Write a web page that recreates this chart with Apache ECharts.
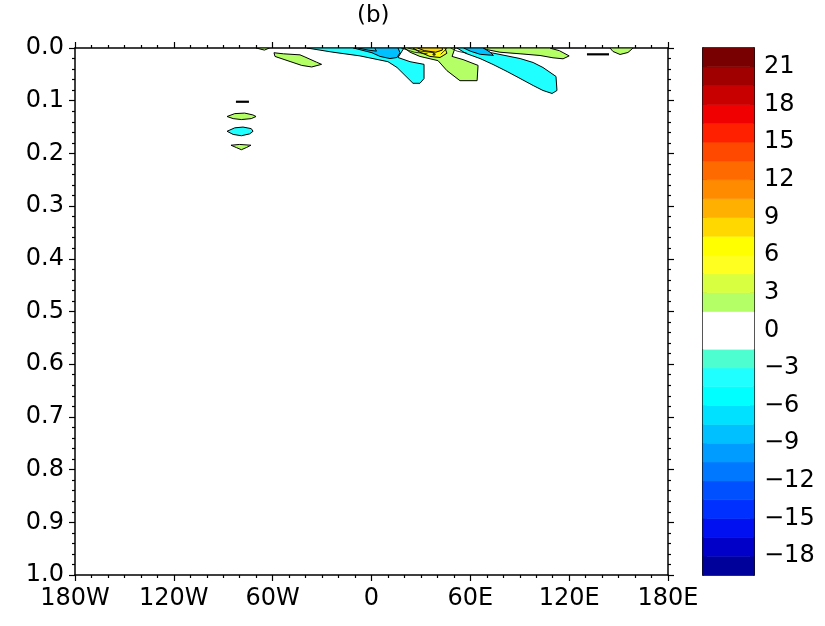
<!DOCTYPE html>
<html>
<head>
<meta charset="utf-8">
<script src="https://cdn.jsdelivr.net/npm/echarts@6/dist/echarts.min.js"></script>
<style>html,body{margin:0;padding:0;background:#fff;}#c{width:825px;height:626px;}</style>
</head>
<body>
<div id="c"></div>
<script>
// ---------- axis tick data ----------
const lonTicks = [-180, -120, -60, 0, 60, 120, 180];
const lonTickLabels = ['180W', '120W', '60W', '0', '60E', '120E', '180E'];
const cbarTickValues = [-18, -15, -12, -9, -6, -3, 0, 3, 6, 9, 12, 15, 18, 21];

// ---------- colour scale (edges and colours, bottom to top) ----------
const cbarEdges = [-19.5, -18, -16.5, -15, -13.5, -12, -10.5, -9, -7.5, -6, -4.5, -3, -1.5,
  1.5, 3, 4.5, 6, 7.5, 9, 10.5, 12, 13.5, 15, 16.5, 18, 19.5, 21, 22.5];
const cbarColors = ['#00009a', '#0000c8', '#0010f0', '#0030ff', '#0050ff', '#0078ff', '#009cff',
  '#00c0ff', '#00e0ff', '#00ffff', '#20ffff', '#4dffd0', '#ffffff',
  '#b4ff66', '#d8ff40', '#ffff20', '#ffff00', '#ffd800', '#ffb000', '#ff8c00', '#ff6a00',
  '#ff4800', '#ff2000', '#f00000', '#c80000', '#a00000', '#780000'];

// ---------- contour polygons [lon, depth] ----------
const cyanA = [[-39.2, 0], [-23.4, 0.008], [-7, 0.015], [10, 0.026], [15.5, 0.037], [25.2, 0.067],
  [29.4, 0.067], [31.9, 0.058], [31.9, 0.031], [23.4, 0.026], [16.1, 0.018], [19.7, 0]];
const blueA = [[-11, 0], [0.3, 0.009], [5.2, 0.016], [11.2, 0.02], [15.5, 0.018], [17.3, 0.009], [16.1, 0]];
const blueA2 = [[-8, 0], [-2, 0.004], [3, 0.006], [2, 0]];
const greenB = [[20, 0], [23.4, 0.008], [29.4, 0.016], [40.4, 0.024], [45.8, 0.043], [53.7, 0.062],
  [64.1, 0.062], [64.7, 0.033], [55.6, 0.022], [48.9, 0.016], [50.7, 0]];
const yellowB = [[25.2, 0], [29.4, 0.008], [35.5, 0.016], [41.6, 0.018], [45.8, 0.01], [44.6, 0]];
const goldB = [[28, 0], [32, 0.005], [39, 0.008], [43, 0.004], [43, 0]];
const cyanC = [[51.9, 0], [62.8, 0], [71.9, 0.0085], [78, 0.0123], [90.2, 0.02], [98.1, 0.0275],
  [104.1, 0.037], [112, 0.054], [112.6, 0.0806], [109.6, 0.0863], [104.1, 0.0806], [98.1, 0.0711],
  [90.2, 0.0578], [82.3, 0.0446], [73.8, 0.0313], [65.9, 0.02], [57.4, 0.0104]];
const blueC = [[56, 0], [68, 0], [72, 0.008], [74, 0.014], [66, 0.012], [60, 0.006]];
const greenD = [[67.7, 0], [108, 0], [114, 0.005], [120, 0.015], [116.3, 0.0205], [110.2, 0.0186],
  [102.3, 0.0142], [90.2, 0.011], [78, 0.008], [70, 0.003]];
const greenE = [[144.8, 0], [158.8, 0], [155.7, 0.0085], [150.9, 0.0123], [146.6, 0.0066]];
const greenA = [[-59.2, 0.009], [-58.6, 0.016], [-42.4, 0.033], [-36.3, 0.036], [-30.3, 0.031],
  [-33.3, 0.027], [-40.4, 0.017], [-43.4, 0.013], [-53.5, 0.011]];
const greenSliver = [[-70, 0], [-62, 0], [-65, 0.004]];
const greenS1 = [[-87.7, 0.13], [-83, 0.1245], [-77, 0.1235], [-72, 0.127], [-70.1, 0.13],
  [-73, 0.134], [-79, 0.1358], [-84, 0.134]];
const cyanS2 = [[-87.7, 0.158], [-83, 0.1515], [-78, 0.15], [-73, 0.153], [-71.9, 0.158],
  [-74, 0.163], [-79, 0.1665], [-84, 0.164]];
const greenS3 = [[-85.3, 0.1845], [-80, 0.183], [-73.2, 0.1845], [-76, 0.189], [-79, 0.193], [-82, 0.189]];
// contours drawn only as lines
const lineE = [[130.8, 0.012], [144.2, 0.012]];
const lineS = [[-82.3, 0.102], [-74.4, 0.102]];
const fan1 = [[18, 0], [26, 0.008], [34, 0.011]];
const fan2 = [[22, 0], [30, 0.006], [38, 0.009]];
const fan3 = [[46, 0], [44, 0.006], [42, 0.012]];
const fan4 = [[48, 0], [52, 0.006], [58, 0.01]];
const dotB = [[38, 0.012]];

const contours = [
  {pts: cyanA, level: -4.5}, {pts: blueA, level: -9}, {pts: blueA2, level: -7.5},
  {pts: greenB, level: 1.5}, {pts: yellowB, level: 6}, {pts: goldB, level: 7.5},
  {pts: cyanC, level: -4.5}, {pts: blueC, level: -9},
  {pts: greenD, level: 1.5}, {pts: greenE, level: 1.5}, {pts: greenA, level: 1.5},
  {pts: greenSliver, level: 1.5}, {pts: greenS1, level: 1.5}, {pts: cyanS2, level: -4.5}, {pts: greenS3, level: 1.5}
];
const thickLines = [lineE, lineS];
const thinLines = [fan1, fan2, fan3, fan4];

function colorFor(level) {
  for (let i = 0; i < cbarColors.length; i++) {
    if (level >= cbarEdges[i] && level < cbarEdges[i + 1]) return cbarColors[i];
  }
  return '#ffffff';
}

const FONT = 'DejaVu Sans';
const FS = 24;
const axisLineStyle = {color: '#000', width: 1.5};
const tickStyle = {color: '#000', width: 1.2};

function mainAxis(extra) {
  return Object.assign({
    type: 'value', gridIndex: 0,
    axisLine: {show: true, onZero: false, lineStyle: axisLineStyle},
    axisTick: {show: true, length: 6, lineStyle: tickStyle},
    minorTick: {show: true, length: 3, lineStyle: tickStyle},
    splitLine: {show: false}, minorSplitLine: {show: false}
  }, extra);
}

const chart = echarts.init(document.getElementById('c'), null, {renderer: 'canvas'});
const option = {
  backgroundColor: '#fff',
  animation: false,
  graphic: [{type: 'text', left: 357, top: 5, style: {text: '(b)', font: '23px ' + FONT, fill: '#000'}}],
  grid: [
    {left: 75, top: 48, width: 593, height: 527, show: false},
    {left: 703, top: 48, width: 51, height: 527, show: true, borderColor: '#000', borderWidth: 1.5, backgroundColor: 'transparent'}
  ],
  xAxis: [
    mainAxis({min: -180, max: 180, interval: 60, position: 'bottom',
      minorTick: {show: true, splitNumber: 6, length: 3, lineStyle: tickStyle},
      axisLabel: {margin: 12, color: '#000', fontFamily: FONT, fontSize: FS,
        formatter: v => lonTickLabels[lonTicks.indexOf(v)]}}),
    mainAxis({min: -180, max: 180, interval: 60, position: 'top',
      minorTick: {show: true, splitNumber: 6, length: 3, lineStyle: tickStyle},
      axisLabel: {show: false}}),
    {type: 'value', gridIndex: 1, min: 0, max: 1, show: false}
  ],
  yAxis: [
    mainAxis({min: 0, max: 1, interval: 0.1, inverse: true, position: 'left',
      minorTick: {show: true, splitNumber: 5, length: 3, lineStyle: tickStyle},
      axisLabel: {margin: 11, color: '#000', fontFamily: FONT, fontSize: FS, formatter: v => v.toFixed(1)}}),
    mainAxis({min: 0, max: 1, interval: 0.1, inverse: true, position: 'right',
      minorTick: {show: true, splitNumber: 5, length: 3, lineStyle: tickStyle},
      axisLabel: {show: false}}),
    {type: 'value', gridIndex: 1, min: -19.5, max: 22.5, position: 'right',
      axisLine: {show: true, onZero: false, lineStyle: axisLineStyle},
      axisTick: {show: true, inside: true, length: 4, customValues: cbarTickValues, lineStyle: {color: '#000', width: 1.5}},
      splitLine: {show: false},
      axisLabel: {margin: 10, color: '#000', fontFamily: FONT, fontSize: FS, customValues: cbarTickValues,
        formatter: v => (v < 0 ? '\u2212' + Math.abs(v) : String(v))}},
    {type: 'value', gridIndex: 1, min: -19.5, max: 22.5, position: 'left',
      axisLine: {show: true, onZero: false, lineStyle: axisLineStyle},
      axisTick: {show: true, inside: true, length: 4, customValues: cbarTickValues, lineStyle: {color: '#000', width: 1.5}},
      splitLine: {show: false}, axisLabel: {show: false}}
  ],
  series: [
    {
      type: 'custom', xAxisIndex: 0, yAxisIndex: 0, clip: true,
      data: contours.map(c => [c.pts[0][0], c.pts[0][1]]),
      encode: {x: 0, y: 1},
      renderItem: function (params, api) {
        const c = contours[params.dataIndex];
        return {type: 'polygon', shape: {points: c.pts.map(p => api.coord(p))},
          style: {fill: colorFor(c.level), stroke: '#000', lineWidth: 1}};
      }
    },
    {
      type: 'custom', xAxisIndex: 0, yAxisIndex: 0, clip: true,
      data: thinLines.map(l => [l[0][0], l[0][1]]),
      encode: {x: 0, y: 1},
      renderItem: function (params, api) {
        const l = thinLines[params.dataIndex];
        return {type: 'polyline', shape: {points: l.map(p => api.coord(p))},
          style: {stroke: '#000', lineWidth: 0.8, fill: null}};
      }
    },
    {
      type: 'custom', xAxisIndex: 0, yAxisIndex: 0, clip: true,
      data: thickLines.map(l => [l[0][0], l[0][1]]),
      encode: {x: 0, y: 1},
      renderItem: function (params, api) {
        const l = thickLines[params.dataIndex];
        return {type: 'polyline', shape: {points: l.map(p => api.coord(p))},
          style: {stroke: '#000', lineWidth: 2.2, fill: null}};
      }
    },
    {
      type: 'scatter', xAxisIndex: 0, yAxisIndex: 0, data: dotB, symbolSize: 3,
      itemStyle: {color: '#000'}, silent: true
    },
    {
      type: 'custom', xAxisIndex: 2, yAxisIndex: 2, clip: false,
      data: cbarColors.map((col, i) => [0, cbarEdges[i], cbarEdges[i + 1]]),
      encode: {x: 0, y: [1, 2]},
      renderItem: function (params, api) {
        const i = params.dataIndex;
        const p0 = api.coord([0, cbarEdges[i]]);
        const p1 = api.coord([1, cbarEdges[i + 1]]);
        return {type: 'rect', shape: {x: p0[0], y: p1[1], width: p1[0] - p0[0], height: p0[1] - p1[1]},
          style: {fill: cbarColors[i], stroke: cbarColors[i], lineWidth: 0.6}};
      },
      z: 1
    }
  ]
};
chart.setOption(option);
</script>
</body>
</html>
